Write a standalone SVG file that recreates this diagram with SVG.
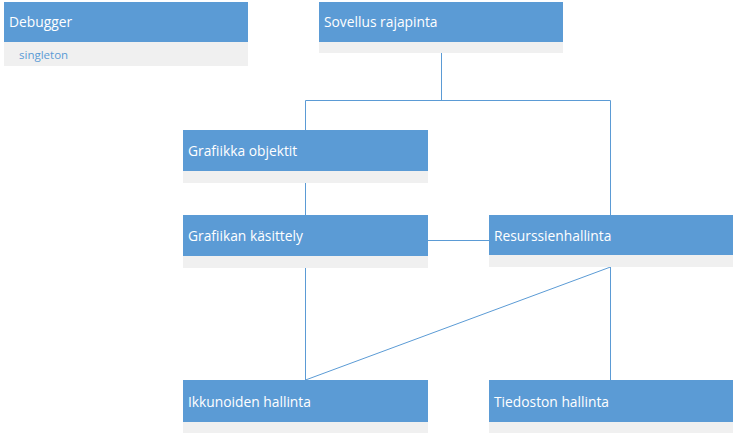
<svg xmlns="http://www.w3.org/2000/svg" width="735" height="435" viewBox="0 0 735 435">
<style>
.hd{fill:#5b9bd5}
.bd{fill:#f0f0f0}
.t{font-family:"Open Sans","Liberation Sans",sans-serif;font-size:13.8px;fill:#ffffff}
.s{font-family:"Open Sans","Liberation Sans",sans-serif;font-size:11.5px;fill:#5b9bd5}
.c{stroke:#5b9bd5;stroke-width:1;fill:none}
</style>
<rect width="735" height="435" fill="#ffffff"/>
<g id="connectors">
<path class="c" d="M441.5 53V100.5M305.5 100.5H610.5M305.5 100.5V130M610.5 100.5V215"/>
<path class="c" d="M305.5 183V215M428 240.5H489M305.5 268V380M610.5 267V380M610.5 267L305.5 380"/>
</g>
<g id="debugger">
<rect class="bd" x="4" y="42" width="244" height="24"/>
<rect class="hd" x="4" y="2" width="244" height="40"/>
<text class="t" x="9" y="27">Debugger</text>
<text class="s" x="19" y="59">singleton</text>
</g>
<g id="sovellus">
<rect class="bd" x="319" y="42" width="244" height="11"/>
<rect class="hd" x="319" y="2" width="244" height="40"/>
<text class="t" x="324" y="27">Sovellus rajapinta</text>
</g>
<g id="grafiikka-objektit">
<rect class="bd" x="183" y="171" width="245" height="12"/>
<rect class="hd" x="183" y="130" width="245" height="41"/>
<text class="t" x="188" y="156">Grafiikka objektit</text>
</g>
<g id="grafiikan-kasittely">
<rect class="bd" x="183" y="256" width="245" height="12"/>
<rect class="hd" x="183" y="215" width="245" height="41"/>
<text class="t" x="188" y="241">Grafiikan käsittely</text>
</g>
<g id="resurssienhallinta">
<rect class="bd" x="489" y="255" width="244" height="12"/>
<rect class="hd" x="489" y="215" width="244" height="40"/>
<text class="t" x="494" y="241">Resurssienhallinta</text>
</g>
<g id="ikkunoiden-hallinta">
<rect class="bd" x="183" y="422" width="245" height="11"/>
<rect class="hd" x="183" y="380" width="245" height="42"/>
<text class="t" x="188" y="407">Ikkunoiden hallinta</text>
</g>
<g id="tiedoston-hallinta">
<rect class="bd" x="489" y="422" width="244" height="11"/>
<rect class="hd" x="489" y="380" width="244" height="42"/>
<text class="t" x="494" y="407">Tiedoston hallinta</text>
</g>
</svg>
